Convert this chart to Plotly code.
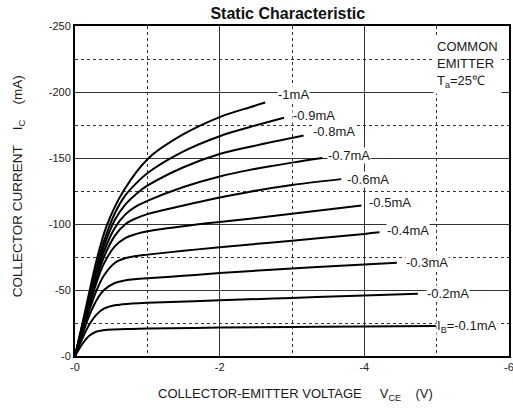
import plotly.graph_objects as go

# Base current labels (mA), PNP transistor: VCE and IC are negative.
ib_labels = ["I<sub>B</sub>=-0.1mA", "-0.2mA", "-0.3mA", "-0.4mA", "-0.5mA",
             "-0.6mA", "-0.7mA", "-0.8mA", "-0.9mA", "-1mA"]

# |VCE| (V) and |IC| (mA), one pair of lists per curve
vce_01 = [0, 0.1, 0.2, 0.3, 0.45, 0.7, 1, 2, 3, 4, 4.99]
ic_01 = [0, 9, 15.5, 18.6, 19.9, 20.4, 20.8, 21.5, 22, 22.4, 22.7]

vce_02 = [0, 0.1, 0.2, 0.3, 0.4, 0.55, 0.75, 1, 2, 3, 4, 4.74]
ic_02 = [0, 13, 24, 31.5, 35.8, 38.4, 39.6, 40.3, 42.2, 44, 45.8, 47.2]

vce_03 = [0, 0.1, 0.2, 0.3, 0.4, 0.55, 0.7, 0.85, 1, 1.5, 2, 3, 4, 4.45]
ic_03 = [0, 16, 31, 42.5, 50, 55.3, 57.4, 58.3, 58.9, 60.8, 62.8, 66.3, 69.4, 70.7]

vce_04 = [0, 0.1, 0.2, 0.3, 0.4, 0.55, 0.7, 0.85, 1, 1.5, 2, 3, 4, 4.21]
ic_04 = [0, 18, 35, 50, 61, 70.5, 74.2, 75.8, 76.8, 79.7, 82.4, 87.4, 92.5, 93.7]

vce_05 = [0, 0.1, 0.2, 0.3, 0.4, 0.55, 0.7, 0.85, 1, 1.5, 2, 2.42, 3, 3.96]
ic_05 = [0, 19, 38, 56, 70, 83, 89.5, 92.5, 94.5, 98.3, 101.5, 104, 107.8, 114]

vce_06 = [0, 0.1, 0.2, 0.3, 0.4, 0.55, 0.7, 0.85, 1, 1.5, 2, 2.42, 3, 3.68]
ic_06 = [0, 20, 40, 59, 75, 91, 100, 104.5, 107.5, 114, 120, 124.5, 129.5, 134]

vce_07 = [0, 0.1, 0.2, 0.3, 0.4, 0.55, 0.7, 0.85, 1, 1.5, 2, 2.42, 3, 3.42]
ic_07 = [0, 21, 42, 62, 79, 97, 107.5, 113.5, 117.5, 128, 136, 141, 146.5, 150]

vce_08 = [0, 0.1, 0.2, 0.3, 0.4, 0.55, 0.7, 0.85, 1, 1.5, 2, 2.42, 3.16]
ic_08 = [0, 22, 44, 65, 83, 103, 115, 123, 129, 143, 153, 158.5, 167]

vce_09 = [0, 0.1, 0.2, 0.3, 0.4, 0.55, 0.7, 0.85, 1, 1.5, 2, 2.42, 2.89]
ic_09 = [0, 23, 46, 68, 87, 108, 122, 131, 138.5, 155, 166.5, 173.5, 180.5]

vce_10 = [0, 0.1, 0.2, 0.3, 0.44, 0.67, 1.02, 1.5, 2, 2.42, 2.63]
ic_10 = [0, 24, 49, 73, 99, 125, 150, 168, 181, 188.5, 192]

x_ticks = [0, -2, -4, -6]
x_ticktext = ["-0", "-2", "-4", "-6"]
x_minor = [-1, -3, -5]
y_ticks = [0, -50, -100, -150, -200, -250]
y_ticktext = ["-0", "-50", "-100", "-150", "-200", "-250"]
y_minor = [-25, -75, -125, -175, -225]

curves = [(vce_01, ic_01), (vce_02, ic_02), (vce_03, ic_03), (vce_04, ic_04),
          (vce_05, ic_05), (vce_06, ic_06), (vce_07, ic_07), (vce_08, ic_08),
          (vce_09, ic_09), (vce_10, ic_10)]

# label offsets in pixels (style, not data)
label_shift = [(0, 0), (8, 0), (8, 0), (6, 2), (7, 3), (5, 0), (5, 3), (8, 4), (8, 2), (12, 8)]

FONT = "Arial, Liberation Sans, sans-serif"
NB = "\u00a0"
TXT = "#1a1a1a"

fig = go.Figure()
for (v, i) in curves:
    fig.add_trace(go.Scatter(
        x=[-a for a in v], y=[-b for b in i], mode="lines",
        line=dict(color="black", width=2, shape="spline", smoothing=1.0),
        showlegend=False, hoverinfo="skip"))

for (v, i), lab, (dx, dy) in zip(curves, ib_labels, label_shift):
    fig.add_annotation(x=-v[-1], y=-i[-1], text=lab, showarrow=False,
                       xanchor="left", yanchor="middle", xshift=dx, yshift=dy,
                       bgcolor="white", borderpad=0,
                       font=dict(family=FONT, size=13, color=TXT))

fig.add_annotation(
    x=-4.95, y=-243, xref="x", yref="y",
    text="COMMON<br>EMITTER<br>T<sub>a</sub>=25℃",
    showarrow=False, xanchor="left", yanchor="top", align="left",
    bgcolor="white", borderpad=3,
    font=dict(family=FONT, size=13, color=TXT))

# axis titles
fig.add_annotation(
    x=0.507, y=-0.118, xref="paper", yref="paper",
    text="COLLECTOR-EMITTER VOLTAGE" + NB * 5 + "V<sub>CE</sub>" + NB * 4 + "(V)",
    showarrow=False, xanchor="center", yanchor="middle",
    font=dict(family=FONT, size=13, color=TXT))
fig.add_annotation(
    x=-0.131, y=0.515, xref="paper", yref="paper", textangle=-90,
    text="COLLECTOR CURRENT" + NB * 4 + "I<sub>C</sub>" + NB * 4 + "(mA)",
    showarrow=False, xanchor="center", yanchor="middle",
    font=dict(family=FONT, size=13.5, color=TXT))

axis_common = dict(
    showline=True, linecolor="black", linewidth=2, mirror=True,
    showgrid=True, gridcolor="#333", gridwidth=1.4, zeroline=False,
    ticks="", tickfont=dict(family=FONT, size=11, color=TXT),
    ticklabeloverflow="allow",
    automargin=False, fixedrange=True,
)
minor_common = dict(tickmode="array", showgrid=True, griddash="dot",
                    gridcolor="#333", gridwidth=1.4, ticks="")

fig.update_layout(
    width=513, height=409,
    margin=dict(l=75, r=4, t=26, b=53),
    paper_bgcolor="white", plot_bgcolor="white",
    title=dict(text="<b>Static Characteristic</b>", x=0.561, xref="container",
               xanchor="center", y=1 - 13.5 / 409, yref="container",
               yanchor="middle", font=dict(family=FONT, size=16, color="#111")),
    xaxis=dict(range=[0, -6], tickmode="array", tickvals=x_ticks,
               ticktext=x_ticktext, minor=dict(tickvals=x_minor, **minor_common),
               **axis_common),
    yaxis=dict(range=[0, -250], tickmode="array", tickvals=y_ticks,
               ticktext=y_ticktext, minor=dict(tickvals=y_minor, **minor_common),
               **axis_common),
)

fig.write_html("out.html", config={"displayModeBar": False},
               post_script="document.body.style.margin='0px';")
